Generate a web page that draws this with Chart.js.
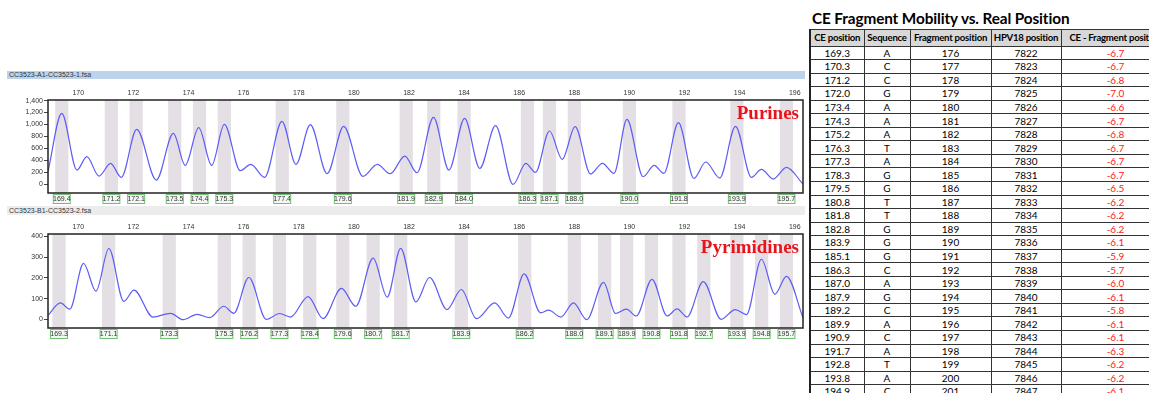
<!DOCTYPE html>
<html>
<head>
<meta charset="utf-8">
<script src="https://cdn.jsdelivr.net/npm/chart.js@4.4.1/dist/chart.umd.min.js"></script>
<style>
  body { margin:0; width:1149px; height:393px; overflow:hidden; background:#fff; position:relative; font-family:Arial, "Liberation Sans", sans-serif; }
  .bar { position:absolute; left:7px; width:798px; font-size:7px; color:#333; line-height:8px; padding-left:2px; box-sizing:border-box; }
  #bar1 { top:71px; height:7.5px; background:#bcd3eb; }
  #bar2 { top:206px; height:9px; background:#ececec; line-height:9px; }
  canvas { position:absolute; left:0; }
  #c1 { top:82px; }
  #c2 { top:216px; }
  #title { position:absolute; left:812px; top:9px; font-family:Lato, sans-serif; font-weight:bold; font-size:15.3px; letter-spacing:-0.1px; color:#000; white-space:nowrap; }
  table { position:absolute; left:809px; top:29px; border-collapse:collapse; font-family:Lato, sans-serif; font-size:10px; color:#000; border-left:2px solid #222; table-layout:fixed; width:360px; }
  td, th { border:1px solid #333; text-align:center; padding:0; white-space:nowrap; overflow:hidden; height:12.55px; }
  th { background:#d8d8d8; font-size:9.6px; height:15.5px; letter-spacing:-0.25px; }
  td.r { color:#ff2020; }
</style>
</head>
<body>
<div class="bar" id="bar1">CC3523-A1-CC3523-1.fsa</div>
<canvas id="c1" width="808" height="123"></canvas>
<div class="bar" id="bar2">CC3523-B1-CC3523-2.fsa</div>
<canvas id="c2" width="808" height="124"></canvas>
<div id="title">CE Fragment Mobility vs. Real Position</div>
<table id="tbl"></table>
<script>
// x axis ticks (size in bp)
var xTicks = [170, 172, 174, 176, 178, 180, 182, 184, 186, 188, 190, 192, 194, 196];

// Purines trace (peak and valley points)
var purX = [168.90, 169.40, 169.95, 170.31, 170.75, 171.17, 171.56, 172.12, 172.83, 173.45, 173.88, 174.37, 174.84, 175.30, 175.88, 176.26, 176.76, 177.39, 177.90, 178.42, 179.03, 179.63, 180.33, 180.85, 181.32, 181.85, 182.29, 182.89, 183.45, 184.02, 184.57, 185.14, 185.78, 186.24, 186.59, 187.10, 187.56, 188.03, 188.59, 189.02, 189.44, 189.91, 190.50, 190.90, 191.25, 191.78, 192.34, 192.77, 193.28, 193.85, 194.43, 194.79, 195.22, 195.70, 196.30];
var purY = [207, 1187, 235, 459, 134, 347, 112, 918, 67, 851, 314, 946, 314, 1002, 224, 330, 112, 1053, 330, 997, 174, 969, 129, 330, 174, 470, 190, 1120, 235, 1103, 263, 980, -6, 347, 196, 890, 414, 963, 168, 347, 179, 1086, 123, 314, 179, 1030, 95, 370, 101, 969, 112, 246, 84, 280, 0];
var purPeaks = [169.4, 171.2, 172.1, 173.5, 174.4, 175.3, 177.4, 179.6, 181.9, 182.9, 184.0, 186.3, 187.1, 188.0, 190.0, 191.8, 193.9, 195.7];
var purYTicks = [0, 200, 400, 600, 800, 1000, 1200, 1400];

// Pyrimidines trace
var pyrX = [168.90, 169.35, 169.69, 170.19, 170.64, 171.11, 171.65, 172.02, 172.71, 173.35, 173.80, 174.31, 174.77, 175.28, 175.64, 176.19, 176.82, 177.31, 177.70, 178.34, 178.88, 179.55, 180.07, 180.70, 181.21, 181.70, 182.25, 182.75, 183.38, 183.90, 184.45, 185.11, 185.61, 186.18, 186.78, 187.07, 187.51, 187.97, 188.45, 189.06, 189.50, 189.89, 190.25, 190.82, 191.37, 191.73, 192.09, 192.68, 193.33, 193.84, 194.25, 194.79, 195.28, 195.70, 196.30];
var pyrY = [19, 79, 49, 270, 136, 342, 87, 141, 11, 29, -2, 24, 8, 63, 29, 202, 0, 28, 11, 110, 3, 149, 63, 295, 107, 343, 84, 202, 47, 144, 3, 79, 6, 219, 31, 44, 11, 79, -2, 178, 28, 49, 16, 193, 16, 50, 11, 182, 0, 47, 23, 290, 121, 207, 8];
var pyrPeaks = [169.3, 171.1, 173.3, 175.3, 176.2, 177.3, 178.4, 179.6, 180.7, 181.7, 183.9, 186.2, 188.0, 189.1, 189.9, 190.8, 191.8, 192.7, 193.9, 194.8, 195.7];
var pyrYTicks = [0, 100, 200, 300, 400];

// table
var tblHead = ["CE position", "Sequence", "Fragment position", "HPV18 position", "CE - Fragment position"];
var cePos = ["169.3", "170.3", "171.2", "172.0", "173.4", "174.3", "175.2", "176.3", "177.3", "178.3", "179.5", "180.8", "181.8", "182.8", "183.9", "185.1", "186.3", "187.0", "187.9", "189.2", "189.9", "190.9", "191.7", "192.8", "193.8", "194.9"];
var seq = ["A", "C", "C", "G", "A", "A", "A", "T", "A", "G", "G", "T", "T", "G", "G", "G", "C", "A", "G", "C", "A", "C", "A", "T", "A", "C"];
var fragPos = [176, 177, 178, 179, 180, 181, 182, 183, 184, 185, 186, 187, 188, 189, 190, 191, 192, 193, 194, 195, 196, 197, 198, 199, 200, 201];
var hpvPos = [7822, 7823, 7824, 7825, 7826, 7827, 7828, 7829, 7830, 7831, 7832, 7833, 7834, 7835, 7836, 7837, 7838, 7839, 7840, 7841, 7842, 7843, 7844, 7845, 7846, 7847];
var diff = ["-6.7", "-6.7", "-6.8", "-7.0", "-6.6", "-6.7", "-6.8", "-6.7", "-6.7", "-6.7", "-6.5", "-6.2", "-6.2", "-6.2", "-6.1", "-5.9", "-5.7", "-6.0", "-6.1", "-5.8", "-6.1", "-6.1", "-6.3", "-6.2", "-6.2", "-6.1"];

var colW = [54, 46, 81, 70, 109];
var html = "<colgroup>" + colW.map(function(w){ return '<col style="width:' + w + 'px">'; }).join("") + "</colgroup>";
html += "<tr>" + tblHead.map(function(h){ return "<th>" + h + "</th>"; }).join("") + "</tr>";
for (var i = 0; i < cePos.length; i++) {
  html += "<tr><td>" + cePos[i] + "</td><td>" + seq[i] + "</td><td>" + fragPos[i] + "</td><td>" + hpvPos[i] + "</td><td class='r'>" + diff[i] + "</td></tr>";
}
document.getElementById("tbl").innerHTML = html;

// bands, frame, peak labels and panel name
function panelPlugin(peaks, name) {
  return {
    id: "panel",
    beforeDatasetsDraw: function(chart) {
      var c = chart.ctx, a = chart.chartArea, x = chart.scales.x;
      c.save();
      c.fillStyle = "#e4dfe4";
      peaks.forEach(function(p){
        var x0 = x.getPixelForValue(p - 0.24), x1 = x.getPixelForValue(p + 0.24);
        c.fillRect(x0, a.top, x1 - x0, a.bottom - a.top);
      });
      c.restore();
    },
    afterDatasetsDraw: function(chart) {
      var c = chart.ctx, a = chart.chartArea, x = chart.scales.x;
      c.save();
      c.strokeStyle = "#222";
      c.lineWidth = 1.5;
      c.strokeRect(a.left, a.top, a.right - a.left, a.bottom - a.top);
      c.font = "7px Arial";
      c.textAlign = "center";
      c.textBaseline = "middle";
      peaks.forEach(function(p){
        var px = x.getPixelForValue(p);
        c.fillStyle = "#f4f8f4";
        c.fillRect(px - 8.5, a.bottom + 1.5, 17, 9);
        c.strokeStyle = "#72c072";
        c.lineWidth = 1;
        c.strokeRect(px - 8.5, a.bottom + 1.5, 17, 9);
        c.fillStyle = "#333";
        c.fillText(p.toFixed(1), px, a.bottom + 6.2);
      });
      c.font = "bold 19px 'Liberation Serif', 'Times New Roman', serif";
      c.textAlign = "right";
      c.textBaseline = "alphabetic";
      c.fillStyle = "#e8141c";
      c.fillText(name, a.right - 4, a.top + 18.5);
      c.restore();
    }
  };
}

function makeChart(id, xs, ys, peaks, yTicks, yMin, yMax, name) {
  var pts = xs.map(function(v, i){ return {x: v, y: ys[i]}; });
  return new Chart(document.getElementById(id), {
    type: "line",
    data: { datasets: [{ data: pts, borderColor: "#5c5cf6", borderWidth: 1.2, pointRadius: 0, cubicInterpolationMode: "monotone", fill: false }] },
    options: {
      responsive: false,
      animation: false,
      events: [],
      layout: { padding: { left: 0, right: 5, top: 0, bottom: 12 } },
      plugins: { legend: { display: false }, tooltip: { enabled: false } },
      scales: {
        x: {
          type: "linear", position: "top", min: 168.9, max: 196.3,
          afterBuildTicks: function(s){ s.ticks = xTicks.map(function(v){ return {value: v}; }); },
          afterFit: function(s){ s.height = 18; },
          grid: { display: false, drawTicks: false }, border: { display: false },
          ticks: { font: { size: 7, family: "Arial" }, color: "#333", padding: 3, maxRotation: 0, autoSkip: false }
        },
        y: {
          min: yMin, max: yMax,
          afterBuildTicks: function(s){ s.ticks = yTicks.map(function(v){ return {value: v}; }); },
          afterFit: function(s){ s.width = 48; },
          grid: { drawOnChartArea: false, tickLength: 4, color: "#444" }, border: { display: false },
          ticks: { font: { size: 7, family: "Arial" }, color: "#333", padding: 1, callback: function(v){ return v.toLocaleString("en-US"); } }
        }
      }
    },
    plugins: [panelPlugin(peaks, name)]
  });
}

makeChart("c1", purX, purY, purPeaks, purYTicks, -150, 1410, "Purines");
makeChart("c2", pyrX, pyrY, pyrPeaks, pyrYTicks, -42, 412, "Pyrimidines");
</script>
</body>
</html>
